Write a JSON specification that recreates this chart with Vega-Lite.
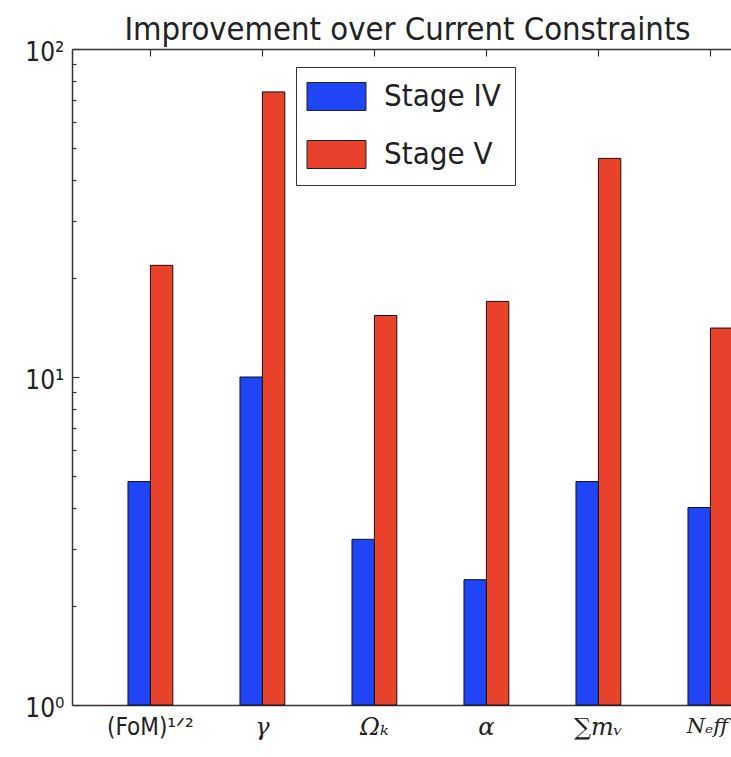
{
  "$schema": "https://vega.github.io/schema/vega-lite/v6.json",
  "autosize": "none",
  "padding": {"left": 72, "top": 49, "right": 0, "bottom": 52},
  "width": 659,
  "height": 656,
  "background": "white",
  "config": {"view": {"stroke": null}},
  "title": {"text": "Improvement over Current Constraints", "font": "DejaVu Sans Condensed", "fontSize": 32.5, "fontWeight": "normal", "color": "#222", "anchor": "middle", "offset": -7, "dx": 6},
  "data": {"values": [
    {"param": "(FoM)¹ᐟ²", "stage": "Stage IV", "value": 4.8},
    {"param": "(FoM)¹ᐟ²", "stage": "Stage V", "value": 21.9},
    {"param": "γ", "stage": "Stage IV", "value": 10.0},
    {"param": "γ", "stage": "Stage V", "value": 74.0},
    {"param": "Ωₖ", "stage": "Stage IV", "value": 3.2},
    {"param": "Ωₖ", "stage": "Stage V", "value": 15.4},
    {"param": "α", "stage": "Stage IV", "value": 2.41},
    {"param": "α", "stage": "Stage V", "value": 17.0},
    {"param": "∑mᵥ", "stage": "Stage IV", "value": 4.8},
    {"param": "∑mᵥ", "stage": "Stage V", "value": 46.4},
    {"param": "Nₑff", "stage": "Stage IV", "value": 4.0},
    {"param": "Nₑff", "stage": "Stage V", "value": 14.1}
  ]},
  "encoding": {
    "x": {"field": "param", "type": "nominal", "sort": null, "title": null,
      "scale": {"range": [0, 672], "paddingInner": 0.6, "paddingOuter": 0.3, "align": 0.8333}},
    "xOffset": {"field": "stage", "type": "nominal", "sort": ["Stage IV", "Stage V"]},
    "y": {"field": "value", "type": "quantitative", "title": null, "scale": {"type": "log", "domain": [1, 100]}}
  },
  "resolve": {"axis": {"x": "independent", "y": "independent"}},
  "layer": [
    {
      "mark": {"type": "bar", "stroke": "#111", "strokeWidth": 1},
      "encoding": {
        "x": {"field": "param", "type": "nominal", "sort": null, "title": null,
          "axis": {"orient": "bottom", "labelAngle": 0, "ticks": false, "domainColor": "#333", "domainWidth": 1.5, "labelPadding": 10, "labelColor": "#222",
            "labelFontSize": {"condition": {"test": "datum.value === 'Nₑff'", "value": 21}, "value": 24},
            "labelOffset": {"condition": {"test": "datum.value === 'Nₑff'", "value": -3}, "value": 0},
            "labelFont": {"condition": {"test": "datum.value === '(FoM)¹ᐟ²'", "value": "DejaVu Sans Condensed"}, "value": "DejaVu Serif"},
            "labelFontStyle": {"condition": {"test": "datum.value === '(FoM)¹ᐟ²'", "value": "normal"}, "value": "italic"}}},
        "y": {"field": "value", "type": "quantitative", "title": null,
          "axis": {"orient": "left", "values": [1, 10, 100], "labelExpr": "datum.value == 1 ? '10⁰' : datum.value == 10 ? '10¹' : '10²'", "ticks": false, "domainColor": "#333", "domainWidth": 1.5, "labelPadding": 8, "labelFontSize": 26, "labelFont": "DejaVu Sans Condensed", "labelColor": "#222", "labelOffset": 3, "grid": false}},
        "y2": {"datum": 1},
        "color": {"field": "stage", "type": "nominal",
          "scale": {"domain": ["Stage IV", "Stage V"], "range": ["#1f46f6", "#e8412c"]},
          "legend": {"orient": "none", "legendX": 224, "legendY": 18, "title": null, "symbolType": "M-2.107,-1H2.107V1H-2.107Z", "symbolSize": 784, "symbolOffset": 11, "symbolStrokeColor": "#222", "symbolStrokeWidth": 1, "labelFontSize": 31, "labelFont": "DejaVu Sans Condensed", "labelColor": "#222", "labelOffset": 32, "rowPadding": 25, "padding": 14, "strokeColor": "#333", "fillColor": "white"}}
      }
    },
    {
      "mark": {"type": "bar", "opacity": 0},
      "encoding": {
        "x": {"field": "param", "type": "nominal", "sort": null, "title": null,
          "axis": {"orient": "top", "labels": false, "domain": false, "tickSize": 7, "offset": -7, "tickColor": "#333", "tickWidth": 1.2}},
        "y": {"field": "value", "type": "quantitative", "title": null,
          "axis": {"orient": "left", "values": [1, 10, 100], "labels": false, "domain": false, "tickSize": 7, "offset": -7, "tickColor": "#333", "tickWidth": 1.2, "grid": false}},
        "y2": {"datum": 1}
      }
    },
    {
      "mark": {"type": "bar", "opacity": 0},
      "encoding": {
        "x": {"field": "param", "type": "nominal", "sort": null, "title": null,
          "axis": {"orient": "top", "labels": false, "ticks": false, "domainColor": "#333", "domainWidth": 1.5}},
        "y": {"field": "value", "type": "quantitative", "title": null,
          "axis": {"orient": "left", "values": [2, 3, 4, 5, 6, 7, 8, 9, 20, 30, 40, 50, 60, 70, 80, 90], "labels": false, "domain": false, "tickSize": 4, "offset": -4, "tickColor": "#333", "tickWidth": 1.2, "grid": false}},
        "y2": {"datum": 1}
      }
    }
  ]
}
